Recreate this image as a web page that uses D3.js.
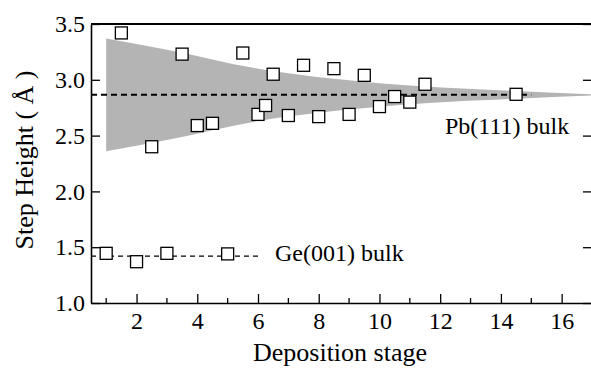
<!DOCTYPE html>
<html>
<head>
<meta charset="utf-8">
<script src="https://cdn.jsdelivr.net/npm/d3@7"></script>
</head>
<body style="margin:0; background:#fff">
<div id="chart"></div>
<script>
// measured step heights (Pb islands) per deposition stage
var pbX = [1.5, 2.5, 3.5, 4, 4.5, 5.5, 6, 6.25, 6.5, 7, 7.5, 8, 8.5, 9, 9.5, 10, 10.5, 11, 11.5, 14.5];
var pbY = [3.42, 2.40, 3.23, 2.59, 2.61, 3.24, 2.69, 2.77, 3.05, 2.68, 3.13, 2.67, 3.10, 2.69, 3.04, 2.76, 2.85, 2.80, 2.96, 2.87];

// Ge substrate steps
var geX = [1, 2, 3, 5];
var geY = [1.445, 1.37, 1.445, 1.44];

// shaded envelope
var bandX = [1, 3, 6, 8.5, 11.5, 14.5, 17];
var bandUpper = [3.37, 3.27, 3.10, 3.01, 2.94, 2.90, 2.87];
var bandLower = [2.36, 2.46, 2.63, 2.72, 2.79, 2.83, 2.86];

var pbBulk = 2.865;
var geBulk = 1.42;
var pbLineX = [0.5, 15];
var geLineX = [0.5, 6];

var xMajor = [2, 4, 6, 8, 10, 12, 14, 16];
var xMinor = [1, 3, 5, 7, 9, 11, 13, 15, 17];
var yTicks = [1.0, 1.5, 2.0, 2.5, 3.0, 3.5];

var serif = "Liberation Serif";

var width = 591, height = 368;
var margin = {top: 24, right: -1, bottom: 65, left: 91};

var x = d3.scaleLinear().domain([0.5, 17]).range([margin.left, width - margin.right]);
var y = d3.scaleLinear().domain([1, 3.5]).range([height - margin.bottom, margin.top]);

var svg = d3.select("#chart").append("svg")
    .attr("width", width)
    .attr("height", height);

// gray band
var band = bandX.map(function(d, i) { return [d, bandLower[i], bandUpper[i]]; });
svg.append("path")
    .datum(band)
    .attr("fill", "#b4b4b4")
    .attr("d", d3.area()
        .curve(d3.curveMonotoneX)
        .x(function(d) { return x(d[0]); })
        .y0(function(d) { return y(d[1]); })
        .y1(function(d) { return y(d[2]); }));

// bulk reference lines
svg.append("line")
    .attr("x1", x(pbLineX[0])).attr("x2", x(pbLineX[1]))
    .attr("y1", y(pbBulk)).attr("y2", y(pbBulk))
    .attr("stroke", "#000").attr("stroke-width", 2)
    .attr("stroke-dasharray", "6,4");

svg.append("line")
    .attr("x1", x(geLineX[0])).attr("x2", x(geLineX[1]))
    .attr("y1", y(geBulk)).attr("y2", y(geBulk))
    .attr("stroke", "#000").attr("stroke-width", 1.2)
    .attr("stroke-dasharray", "5,4");

// axes
var xAxis = svg.append("g")
    .attr("transform", "translate(0," + y(1) + ")")
    .call(d3.axisBottom(x).tickValues(xMajor).tickSize(-9).tickSizeOuter(0).tickPadding(9).tickFormat(d3.format("d")));
xAxis.selectAll("g.minor")
    .data(xMinor).enter()
    .append("line")
    .attr("x1", function(d) { return x(d); }).attr("x2", function(d) { return x(d); })
    .attr("y1", 0).attr("y2", -5)
    .attr("stroke", "#000").attr("stroke-width", 1.3);

var yAxis = svg.append("g")
    .attr("transform", "translate(" + margin.left + ",0)")
    .call(d3.axisLeft(y).tickValues(yTicks).tickSize(-9).tickSizeOuter(0).tickPadding(6).tickFormat(d3.format(".1f")));

svg.append("g")
    .attr("transform", "translate(" + x(17) + ",0)")
    .call(d3.axisRight(y).tickValues(yTicks).tickSize(-9).tickSizeOuter(0).tickFormat(""));

svg.selectAll(".domain").attr("stroke-width", 1.6);
svg.selectAll(".tick line").attr("stroke-width", 1.3);
svg.selectAll(".tick text")
    .attr("font-family", serif)
    .attr("font-size", 24);

// top frame
svg.append("line")
    .attr("x1", x(0.5)).attr("x2", x(17))
    .attr("y1", y(3.5)).attr("y2", y(3.5))
    .attr("stroke", "#000").attr("stroke-width", 1.8);

// markers
var size = 12;
svg.append("g").selectAll("rect")
    .data(pbX.map(function(d, i) { return [d, pbY[i]]; }).concat(geX.map(function(d, i) { return [d, geY[i]]; })))
    .enter().append("rect")
    .attr("x", function(d) { return x(d[0]) - size / 2; })
    .attr("y", function(d) { return y(d[1]) - size / 2; })
    .attr("width", size).attr("height", size)
    .attr("fill", "#fff")
    .attr("stroke", "#000")
    .attr("stroke-width", 1.3);

// annotations
svg.append("text")
    .attr("x", 445).attr("y", 134)
    .attr("font-family", serif)
    .attr("font-size", 24)
    .text("Pb(111) bulk");

svg.append("text")
    .attr("x", 275).attr("y", 261)
    .attr("font-family", serif)
    .attr("font-size", 24)
    .text("Ge(001) bulk");

// axis titles
svg.append("text")
    .attr("x", (margin.left + 589) / 2).attr("y", 361)
    .attr("text-anchor", "middle")
    .attr("font-family", serif)
    .attr("font-size", 26)
    .text("Deposition stage");

svg.append("text")
    .attr("transform", "translate(33," + 160 + ") rotate(-90)")
    .attr("text-anchor", "middle")
    .attr("font-family", serif)
    .attr("font-size", 26)
    .text("Step Height ( Å )");
</script>
</body>
</html>
